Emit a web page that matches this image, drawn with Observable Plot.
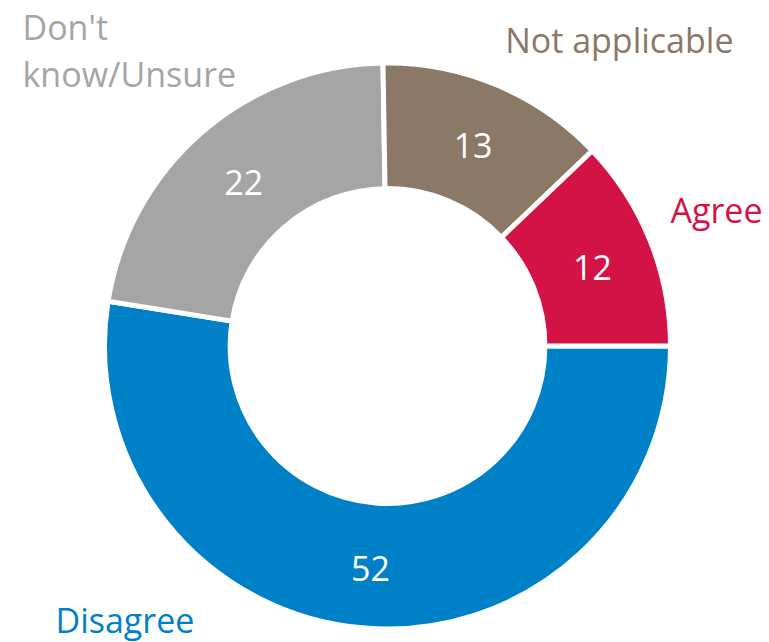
<!DOCTYPE html>
<html>
<head>
<meta charset="utf-8">
<script src="https://cdn.jsdelivr.net/npm/d3@7"></script>
<script src="https://cdn.jsdelivr.net/npm/@observablehq/plot@0.6"></script>
<style>
  body { margin: 0; background: #fff; }
</style>
</head>
<body>
<div id="chart"></div>
<script>
// ---- data ----
const categories = ["Disagree", "Don't know/Unsure", "Not applicable", "Agree"];
const values = [52, 22, 13, 12];
const colors = ["#0080C6", "#A5A5A5", "#8B7866", "#D31245"];
const displayLabels = ["Disagree", "Don't\nknow/Unsure", "Not applicable", "Agree"];

const innerRatio = 0.57;
const data = categories.map((c, i) => ({category: c, value: values[i], color: colors[i], label: displayLabels[i]}));

const pie = d3.pie().sort(null).value(d => d.value)
  .startAngle(Math.PI / 2).endAngle(Math.PI / 2 + 2 * Math.PI);
const arcs = pie(data);
const rMid = (1 + innerRatio) / 2;
const centroids = arcs.map(a => {
  const m = (a.startAngle + a.endAngle) / 2;
  return {text: String(a.data.value), x: rMid * Math.sin(m), y: rMid * Math.cos(m)};
});

function donut(index, scales) {
  const {x, y} = scales;
  const cx = x(0), cy = y(0), r = x(1) - x(0);
  const arc = d3.arc().innerRadius(r * innerRatio - 2.5).outerRadius(r + 2.5);
  const g = d3.create("svg:g").attr("transform", `translate(${cx},${cy})`);
  g.selectAll("path").data(arcs).join("path")
    .attr("d", arc)
    .attr("fill", d => d.data.color)
    .attr("stroke", "white")
    .attr("stroke-width", 5);
  return g.node();
}

const byCat = Object.fromEntries(data.map(d => [d.category, d]));
const fs = 34;
function catLabel(cat, opts) {
  const d = byCat[cat];
  return Plot.text([d], {
    text: "label", fill: d.color, fontSize: fs, lineAnchor: "top", lineHeight: 1.38, ...opts
  });
}

const chart = Plot.plot({
  width: 769,
  height: 642,
  margin: 0,
  style: {fontFamily: "'Open Sans', 'Noto Sans', sans-serif", background: "white"},
  x: {domain: [-1, 1], range: [107, 668], axis: null},
  y: {domain: [-1, 1], range: [626.5, 65.5], axis: null},
  marks: [
    donut,
    Plot.text(centroids, {x: "x", y: "y", text: "text", fill: "white", fontSize: fs, lineAnchor: "middle", dy: 4}),
    catLabel("Don't know/Unsure", {frameAnchor: "top-left", textAnchor: "start", dx: 22, dy: 6}),
    catLabel("Not applicable", {frameAnchor: "top-right", textAnchor: "end", dx: -36, dy: 19}),
    catLabel("Agree", {frameAnchor: "top-right", textAnchor: "end", dx: -7, dy: 189}),
    catLabel("Disagree", {frameAnchor: "top-left", textAnchor: "start", dx: 55, dy: 599})
  ]
});
document.getElementById("chart").appendChild(chart);
</script>
</body>
</html>
